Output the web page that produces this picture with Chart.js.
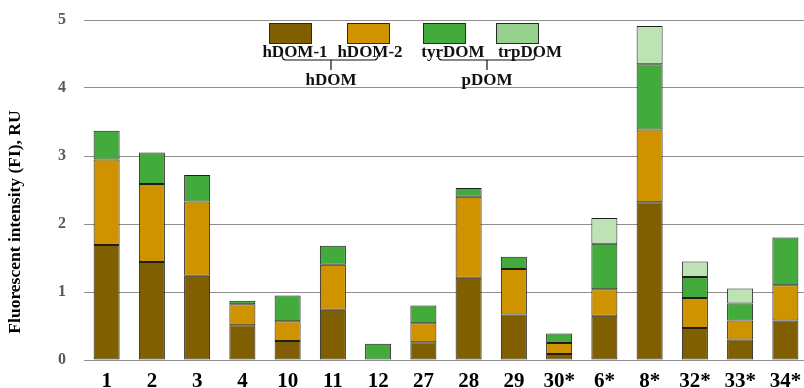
<!DOCTYPE html>
<html>
<head>
<meta charset="utf-8">
<script src="https://cdn.jsdelivr.net/npm/chart.js@4/dist/chart.umd.min.js"></script>
<style>
  html, body { margin: 0; padding: 0; background: #fff; overflow: hidden; }
  #wrap { position: relative; width: 808px; height: 388px; }
</style>
</head>
<body>
<div id="wrap"><canvas id="c" width="808" height="388"></canvas></div>
<script>
// Sampling sites (asterisk marks the second group)
const categories = ['1', '2', '3', '4', '10', '11', '12', '27', '28', '29', '30*', '6*', '8*', '32*', '33*', '34*'];

// Fluorescence intensity of each component, RU
const hDOM1  = [1.69, 1.44, 1.24, 0.51, 0.28, 0.74, null, 0.26, 1.21, 0.67, 0.09, 0.65, 2.32, 0.47, 0.30, 0.58];
const hDOM2  = [1.26, 1.15, 1.09, 0.31, 0.29, 0.66, null, 0.28, 1.19, 0.67, 0.16, 0.39, 1.07, 0.44, 0.28, 0.52];
const tyrDOM = [0.42, 0.46, 0.39, 0.05, 0.38, 0.28, 0.24, 0.26, 0.13, 0.18, 0.14, 0.67, 0.96, 0.31, 0.25, 0.70];
const trpDOM = [null, null, null, null, null, null, null, null, null, null, null, 0.38, 0.56, 0.23, 0.22, null];

const yTicks = [0, 1, 2, 3, 4, 5];
const yTitle = 'Fluorescent intensity (FI), RU';

const seriesNames = ['hDOM-1', 'hDOM-2', 'tyrDOM', 'trpDOM'];
const groupNames = ['hDOM', 'pDOM'];

const COLORS = {
  h1: '#7f5f00',
  h2: '#d09300',
  tyr: '#42ab3b',
  trp: '#bde2b3',
  trpKey: '#96d18d',
  edge: '#1e1e1e',
  grid: '#8f8f8f'
};
const SERIF = "'Liberation Serif', 'Times New Roman', serif";

function series(label, data, color) {
  return {
    label, data,
    backgroundColor: color,
    borderColor: COLORS.edge,
    borderWidth: 1,
    borderSkipped: false,
    categoryPercentage: 1,
    barPercentage: 0.575
  };
}

// Key with group brackets drawn in the upper part of the plot
const keyPlugin = {
  id: 'groupKey',
  afterDraw(chart) {
    const ctx = chart.ctx;
    ctx.save();
    const boxes = [
      { x: 269, fill: COLORS.h1, lx: 295 },
      { x: 347, fill: COLORS.h2, lx: 370 },
      { x: 423, fill: COLORS.tyr, lx: 453 },
      { x: 496, fill: COLORS.trpKey, lx: 530 }
    ];
    ctx.lineWidth = 1;
    ctx.strokeStyle = '#2a2a2a';
    boxes.forEach((b, i) => {
      ctx.fillStyle = b.fill;
      ctx.fillRect(b.x + 0.5, 23.5, 42, 20);
      ctx.strokeRect(b.x + 0.5, 23.5, 42, 20);
    });
    // brackets
    ctx.strokeStyle = '#111';
    ctx.lineWidth = 1.2;
    const brackets = [
      { a: 282, b: 378, m: 331 },
      { a: 438, b: 535, m: 487 }
    ];
    brackets.forEach(br => {
      ctx.beginPath();
      ctx.moveTo(br.a, 55);
      ctx.quadraticCurveTo(br.a, 60, br.a + 4, 60);
      ctx.lineTo(br.b - 4, 60);
      ctx.quadraticCurveTo(br.b, 60, br.b, 55);
      ctx.moveTo(br.m, 60);
      ctx.lineTo(br.m, 70);
      ctx.stroke();
    });
    ctx.fillStyle = '#111';
    ctx.font = 'bold 17px ' + SERIF;
    ctx.textAlign = 'center';
    ctx.textBaseline = 'middle';
    boxes.forEach((b, i) => ctx.fillText(seriesNames[i], b.lx, 53));
    ctx.fillText(groupNames[0], 331, 81);
    ctx.fillText(groupNames[1], 487, 81);

    // rotated y-axis title
    ctx.translate(15, 222);
    ctx.rotate(-Math.PI / 2);
    ctx.font = 'bold 17.5px ' + SERIF;
    ctx.fillStyle = '#000';
    ctx.fillText(yTitle, 0, 0);
    ctx.restore();
  }
};

new Chart(document.getElementById('c'), {
  type: 'bar',
  data: {
    labels: categories,
    datasets: [
      series(seriesNames[0], hDOM1, COLORS.h1),
      series(seriesNames[1], hDOM2, COLORS.h2),
      series(seriesNames[2], tyrDOM, COLORS.tyr),
      series(seriesNames[3], trpDOM, COLORS.trp)
    ]
  },
  options: {
    responsive: false,
    animation: false,
    events: [],
    layout: { padding: { top: 20, right: 0, bottom: 0, left: 0 } },
    plugins: {
      legend: { display: false },
      tooltip: { enabled: false }
    },
    scales: {
      x: {
        stacked: true,
        grid: { display: false },
        border: { display: false },
        ticks: {
          color: '#000',
          font: { family: SERIF, size: 21, weight: 'bold' },
          padding: 1,
          maxRotation: 0,
          autoSkip: false
        },
        afterFit(s) { s.height = 28; s.paddingLeft = 0; s.paddingRight = 0; }
      },
      y: {
        stacked: true,
        min: 0,
        max: 5,
        afterBuildTicks(s) { s.ticks = yTicks.map(v => ({ value: v })); },
        grid: { color: COLORS.grid, lineWidth: 1, drawTicks: false },
        border: { display: false },
        ticks: {
          color: '#595959',
          font: { family: SERIF, size: 16, weight: 'bold' },
          padding: 18
        },
        afterFit(s) { s.width = 84; s.paddingTop = 0; s.paddingBottom = 0; }
      }
    }
  },
  plugins: [keyPlugin]
});
</script>
</body>
</html>
